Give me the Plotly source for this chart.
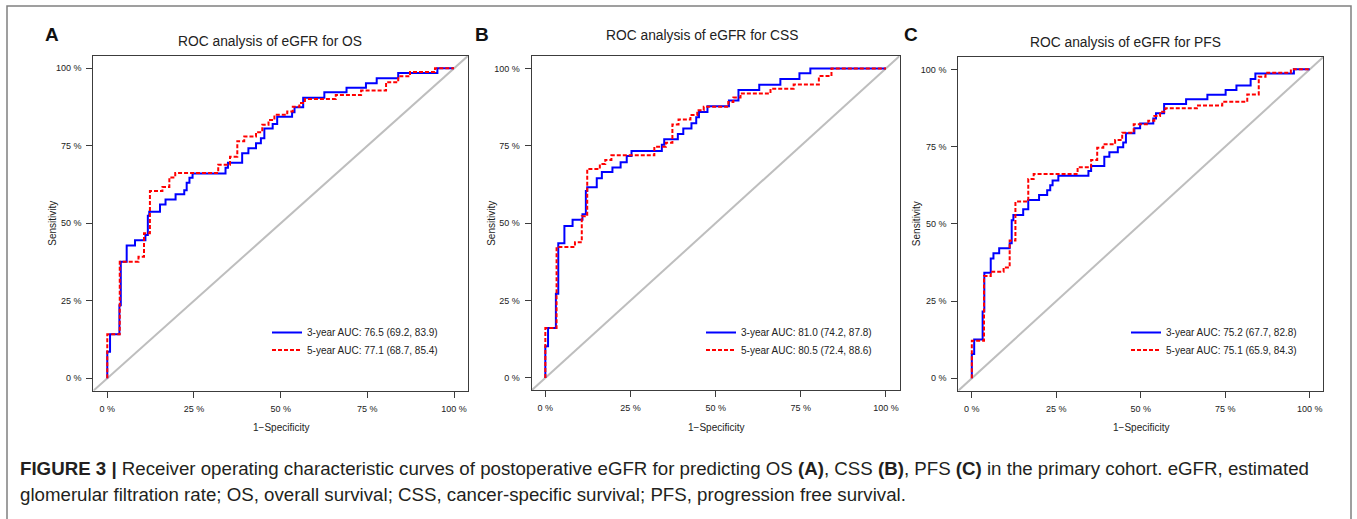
import plotly.graph_objects as go

W, H = 1357, 519

# ---------------- data ----------------
tick_vals = [0, 0.25, 0.5, 0.75, 1.0]
tick_text = ["0 %", "25 %", "50 %", "75 %", "100 %"]
panel_letters = ["A", "B", "C"]
panel_titles = ["ROC analysis of eGFR for OS", "ROC analysis of eGFR for CSS",
                "ROC analysis of eGFR for PFS"]
legend_3y = ["3-year AUC: 76.5 (69.2, 83.9)", "3-year AUC: 81.0 (74.2, 87.8)",
             "3-year AUC: 75.2 (67.7, 82.8)"]
legend_5y = ["5-year AUC: 77.1 (68.7, 85.4)", "5-year AUC: 80.5 (72.4, 88.6)",
             "5-year AUC: 75.1 (65.9, 84.3)"]

os_3y_fpr = [0, 0, 0.008, 0.035, 0.039, 0.056, 0.080, 0.110, 0.117, 0.121, 0.152, 0.168,
             0.197, 0.222, 0.229, 0.237, 0.246, 0.341, 0.348, 0.389, 0.407, 0.429, 0.443,
             0.453, 0.477, 0.490, 0.533, 0.540, 0.565, 0.626, 0.690, 0.746, 0.777, 0.839,
             0.952, 1.0]
os_3y_tpr = [0, 0.086, 0.142, 0.236, 0.376, 0.428, 0.445, 0.462, 0.524, 0.537, 0.561, 0.577,
             0.594, 0.607, 0.631, 0.647, 0.661, 0.679, 0.695, 0.726, 0.742, 0.758, 0.774,
             0.806, 0.820, 0.844, 0.858, 0.874, 0.905, 0.923, 0.937, 0.952, 0.968, 0.985,
             1.0, 1.0]
os_5y_fpr = [0, 0, 0.036, 0.090, 0.106, 0.123, 0.159, 0.179, 0.196, 0.320, 0.354, 0.375,
             0.395, 0.429, 0.447, 0.465, 0.482, 0.519, 0.535, 0.554, 0.570, 0.659, 0.732,
             0.804, 0.839, 0.873, 0.945, 1.0]
os_5y_tpr = [0, 0.142, 0.376, 0.392, 0.468, 0.604, 0.617, 0.648, 0.662, 0.689, 0.715, 0.765,
             0.780, 0.794, 0.818, 0.833, 0.850, 0.861, 0.876, 0.888, 0.901, 0.914, 0.928,
             0.955, 0.974, 0.988, 1.0, 1.0]

css_3y_fpr = [0, 0, 0.008, 0.031, 0.038, 0.056, 0.080, 0.109, 0.119, 0.123, 0.151, 0.166,
              0.197, 0.221, 0.239, 0.253, 0.342, 0.349, 0.389, 0.405, 0.429, 0.443, 0.451,
              0.476, 0.539, 0.567, 0.628, 0.690, 0.746, 0.778, 1.0]
css_3y_tpr = [0, 0.102, 0.161, 0.272, 0.435, 0.491, 0.511, 0.529, 0.604, 0.616, 0.645, 0.665,
              0.680, 0.697, 0.717, 0.733, 0.753, 0.771, 0.788, 0.806, 0.823, 0.842, 0.859,
              0.878, 0.896, 0.930, 0.947, 0.966, 0.984, 1.0, 1.0]
css_5y_fpr = [0, 0, 0.033, 0.087, 0.107, 0.123, 0.160, 0.176, 0.194, 0.320, 0.354, 0.373,
              0.391, 0.426, 0.446, 0.465, 0.537, 0.552, 0.573, 0.661, 0.729, 0.803, 0.840, 1.0]
css_5y_tpr = [0, 0.161, 0.423, 0.438, 0.522, 0.675, 0.691, 0.704, 0.719, 0.747, 0.760, 0.819,
              0.835, 0.849, 0.865, 0.876, 0.891, 0.906, 0.919, 0.934, 0.948, 0.975, 1.0, 1.0]

pfs_3y_fpr = [0, 0, 0.007, 0.032, 0.037, 0.056, 0.064, 0.081, 0.112, 0.118, 0.123, 0.152,
              0.167, 0.199, 0.223, 0.232, 0.239, 0.256, 0.345, 0.353, 0.392, 0.407, 0.432,
              0.448, 0.456, 0.481, 0.498, 0.537, 0.545, 0.569, 0.634, 0.697, 0.751, 0.783,
              0.825, 0.839, 0.953, 1.0]
pfs_3y_tpr = [0, 0.079, 0.126, 0.216, 0.342, 0.388, 0.405, 0.421, 0.437, 0.512, 0.529, 0.547,
              0.577, 0.593, 0.609, 0.625, 0.640, 0.656, 0.671, 0.687, 0.717, 0.732, 0.748,
              0.763, 0.793, 0.809, 0.825, 0.841, 0.858, 0.888, 0.903, 0.918, 0.933, 0.948,
              0.969, 0.987, 1.0, 1.0]
pfs_5y_fpr = [0, 0, 0.036, 0.056, 0.094, 0.112, 0.129, 0.167, 0.183, 0.313, 0.353, 0.371,
              0.389, 0.424, 0.445, 0.479, 0.522, 0.540, 0.557, 0.573, 0.666, 0.741, 0.815,
              0.849, 0.869, 0.944, 1.0]
pfs_5y_tpr = [0, 0.122, 0.331, 0.345, 0.359, 0.446, 0.572, 0.645, 0.661, 0.683, 0.707, 0.746,
              0.758, 0.771, 0.795, 0.822, 0.834, 0.849, 0.863, 0.874, 0.883, 0.895, 0.919,
              0.976, 0.989, 1.0, 1.0]

chance_line = [-0.04, 1.04]
axis_range = [-0.04, 1.04]

panels = [
    (os_3y_fpr, os_3y_tpr, os_5y_fpr, os_5y_tpr),
    (css_3y_fpr, css_3y_tpr, css_5y_fpr, css_5y_tpr),
    (pfs_3y_fpr, pfs_3y_tpr, pfs_5y_fpr, pfs_5y_tpr),
]

# ---------------- layout geometry (pixels) ----------------
boxes = [  # (left, right, top, bottom)
    (93.4, 467.9, 55.9, 390.7),
    (531.7, 899.6, 56.0, 390.3),
    (958.3, 1323.3, 57.0, 390.7),
]
title_pos = [(270, 42), (702, 36), (1125, 43)]
letter_pos = [(52, 34), (482, 34), (911, 34)]
legend_x = [267, 701, 1126]
legend_rows = [318, 335.5]

FONT = "Liberation Sans, Arial, Helvetica, sans-serif"
TXT = "#222222"
BLUE = "#0000FF"
RED = "#FF0000"
GREY = "#BEBEBE"
AXC = "#3c3c3c"


def fx(px):
    return px / W


def fy(py):
    return 1 - py / H


fig = go.Figure()
annotations = []

for i, (f3, t3, f5, t5) in enumerate(panels):
    n = "" if i == 0 else str(i + 1)
    xa, ya = "x" + n, "y" + n
    leg_a = "legend" + ("" if i == 0 else str(2 * i + 1))
    leg_b = "legend" + str(2 * i + 2)
    fig.add_trace(go.Scatter(x=chance_line, y=chance_line, mode="lines",
                             line=dict(color=GREY, width=2), showlegend=False,
                             hoverinfo="skip", xaxis=xa, yaxis=ya))
    fig.add_trace(go.Scatter(x=f3, y=t3, mode="lines", name=legend_3y[i],
                             line=dict(color=BLUE, width=2, shape="hv"),
                             xaxis=xa, yaxis=ya, legend=leg_a))
    fig.add_trace(go.Scatter(x=f5, y=t5, mode="lines", name=legend_5y[i],
                             line=dict(color=RED, width=2, shape="hv", dash="4px,2px"),
                             xaxis=xa, yaxis=ya, legend=leg_b))

    l, r, t, b = boxes[i]
    common = dict(range=axis_range, showgrid=False, zeroline=False, showline=True,
                  mirror=True, linecolor=AXC, linewidth=1.2, ticks="outside",
                  ticklen=6, tickwidth=1, tickcolor=AXC, tickvals=tick_vals,
                  ticktext=tick_text, tickfont=dict(family=FONT, size=9, color=TXT),
                  fixedrange=True, ticklabelstandoff=3)
    fig.layout["xaxis" + n] = dict(domain=[fx(l), fx(r)], anchor=ya, **common)
    fig.layout["yaxis" + n] = dict(domain=[fy(b), fy(t)], anchor=xa, **common)

    for leg, row in ((leg_a, legend_rows[0]), (leg_b, legend_rows[1])):
        fig.layout[leg] = dict(x=fx(legend_x[i]), y=fy(row), xanchor="left",
                               yanchor="top", bgcolor="rgba(0,0,0,0)", borderwidth=0,
                               itemwidth=30, font=dict(family=FONT, size=10, color=TXT))

    tx, ty = title_pos[i]
    annotations.append(dict(x=fx(tx), y=fy(ty), xref="paper", yref="paper",
                            text=panel_titles[i], showarrow=False,
                            font=dict(family=FONT, size=13.8, color=TXT),
                            xanchor="center", yanchor="middle"))
    px_, py_ = letter_pos[i]
    annotations.append(dict(x=fx(px_), y=fy(py_), xref="paper", yref="paper",
                            text="<b>" + panel_letters[i] + "</b>", showarrow=False,
                            font=dict(family=FONT, size=19, color="#111111"),
                            xanchor="center", yanchor="middle"))
    annotations.append(dict(x=fx(l - 41), y=fy((t + b) / 2), xref="paper", yref="paper",
                            text="Sensitivity", textangle=-90, showarrow=False,
                            font=dict(family=FONT, size=10, color=TXT),
                            xanchor="center", yanchor="middle"))
    annotations.append(dict(x=fx((l + r) / 2), y=fy(b + 37), xref="paper", yref="paper",
                            text="1\u2212Specificity", showarrow=False,
                            font=dict(family=FONT, size=10, color=TXT),
                            xanchor="center", yanchor="middle"))

caption_1 = ("<b>FIGURE 3 |</b> Receiver operating characteristic curves of postoperative "
             "eGFR for predicting OS <b>(A)</b>, CSS <b>(B)</b>, PFS <b>(C)</b> in the "
             "primary cohort. eGFR, estimated")
caption_2 = ("glomerular filtration rate; OS, overall survival; CSS, cancer-specific "
             "survival; PFS, progression free survival.")
annotations.append(dict(x=fx(18), y=fy(468), xref="paper", yref="paper", text=caption_1,
                        showarrow=False, xanchor="left", yanchor="middle",
                        font=dict(family=FONT, size=18.7, color="#231f20")))
annotations.append(dict(x=fx(18), y=fy(494), xref="paper", yref="paper", text=caption_2,
                        showarrow=False, xanchor="left", yanchor="middle",
                        font=dict(family=FONT, size=18.7, color="#231f20")))

fig.update_layout(
    width=W, height=H, margin=dict(l=0, r=0, t=0, b=0),
    paper_bgcolor="white", plot_bgcolor="white",
    annotations=annotations,
    shapes=[dict(type="rect", xref="paper", yref="paper", x0=fx(7), x1=fx(1351),
                 y0=-0.2, y1=fy(6), line=dict(color="#808080", width=1.5),
                 fillcolor="rgba(0,0,0,0)", layer="below")],
    font=dict(family=FONT, color=TXT),
)

fig.write_html("out.html", config={"displayModeBar": False},
               post_script="document.body.style.margin='0px';document.body.style.overflow='hidden';")
